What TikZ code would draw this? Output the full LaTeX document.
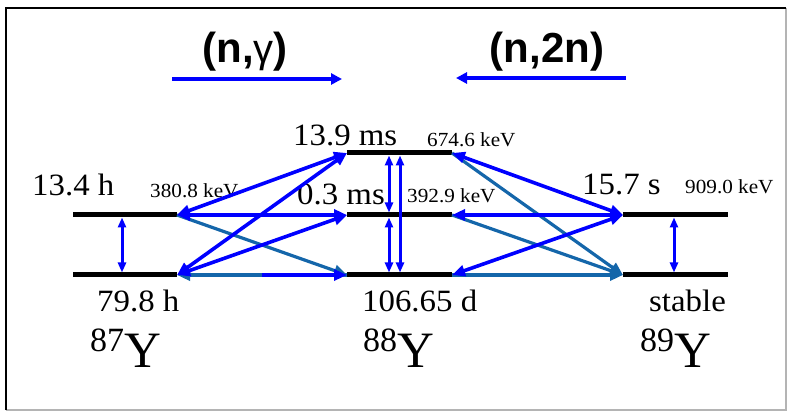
\documentclass[tikz,border=0pt]{standalone}
\usepackage{fontspec}
\setmainfont{Liberation Serif}
\newfontfamily\lblfont{Liberation Serif}[FakeStretch=1.06]
\newfontfamily\sansfont{Liberation Sans}
\usetikzlibrary{arrows.meta}
\definecolor{myblue}{RGB}{0,0,255}
\definecolor{myteal}{RGB}{20,102,170}
\definecolor{framegray}{RGB}{180,180,180}
\tikzset{
  levelbar/.style={line width=5pt, black},
  tipA/.tip={Triangle[length=13pt,width=11pt]},
  tipB/.tip={Triangle[length=10pt,width=8pt]},
  bothblue/.style={myblue, line width=3.6pt, tipA-tipA},
  oneblue/.style={myblue, line width=3.6pt, -tipA},
  tealarrow/.style={myteal, line width=3.2pt, -tipA},
  vertarrow/.style={myblue, line width=3pt, tipB-tipB},
  reaction/.style={myblue, line width=3.8pt, -{Triangle[length=11pt,width=11pt]}},
  bigbold/.style={inner sep=0pt, anchor=base, font=\sansfont\bfseries\fontsize{42}{42}\selectfont},
  life/.style={inner sep=0pt, anchor=base west, font=\lblfont\fontsize{31}{31}\selectfont},
  energy/.style={inner sep=0pt, anchor=base west, font=\lblfont\fontsize{20}{20}\selectfont},
  isotope/.style={inner sep=0pt, anchor=base west, font=\fontsize{51}{51}\selectfont}
}
\newcommand{\isot}[1]{\raisebox{15pt}{\fontsize{34}{34}\selectfont #1}Y}
\begin{document}
\begin{tikzpicture}[x=1pt,y=-1pt]
\useasboundingbox (0,0) rectangle (787,411);
\fill[white] (0,0) rectangle (787,411);
% frame
\draw[framegray, line width=1.5pt] (786,8) -- (786,410) -- (6,410);
\draw[black, line width=2.2pt] (6,410) -- (6,8) -- (786,8);

% titles
\node[bigbold] (ng) at (245,63) {(n,{\mdseries\fontsize{40}{40}\selectfont γ})};
\node[bigbold] (n2n) at (547,63) {(n,2n)};
\coordinate (ngS) at (172,79);
\coordinate (ngE) at (342,79);
\coordinate (n2S) at (626,78);
\coordinate (n2E) at (456,78);
\draw[reaction] (ngS) -- (ngE);
\draw[reaction] (n2S) -- (n2E);

% level end points
\coordinate (a1L) at (73,215);  \coordinate (a1R) at (177,215);
\coordinate (a0L) at (73,275);  \coordinate (a0R) at (177,275);
\coordinate (b2L) at (347,153); \coordinate (b2R) at (452,153);
\coordinate (b1L) at (347,215); \coordinate (b1R) at (452,215);
\coordinate (b0L) at (347,275); \coordinate (b0R) at (452,275);
\coordinate (c1L) at (623,215); \coordinate (c1R) at (728,215);
\coordinate (c0L) at (623,275); \coordinate (c0R) at (728,275);
\coordinate (abMid) at (262,275);

% labels
\node[life] (t134) at (32,196) {13.4 h};
\node[energy] (e380) at (150,198) {380.8 keV};
\node[life] (t139) at (293,146) {13.9 ms};
\node[energy] (e674) at (427,147) {674.6 keV};
\node[life] (t03) at (297,205) {0.3 ms};
\node[energy] (e392) at (407,203) {392.9 keV};
\node[life] (t157) at (582,195) {15.7 s};
\node[energy] (e909) at (685,194) {909.0 keV};
\node[life] (t798) at (97,312) {79.8 h};
\node[life] (t106) at (362,312) {106.65 d};
\node[life] (tst) at (649,312) {stable};
\node[isotope] (y87) at (90,367) {\isot{87}};
\node[isotope] (y88) at (363,367) {\isot{88}};
\node[isotope] (y89) at (640,367) {\isot{89}};

% level bars
\draw[levelbar] (a1L) -- (a1R);
\draw[levelbar] (a0L) -- (a0R);
\draw[levelbar] (b2L) -- (b2R);
\draw[levelbar] (b1L) -- (b1R);
\draw[levelbar] (b0L) -- (b0R);
\draw[levelbar] (c1L) -- (c1R);
\draw[levelbar] (c0L) -- (c0R);

% teal arrows (beneath)
\draw[tealarrow] (b0L) -- (a0R);
\draw[tealarrow] (a1R) -- (b0L);
\draw[tealarrow] (b2R) -- (c0L);
\draw[tealarrow] (b1R) -- (c0L);
\draw[tealarrow] (b0R) -- (c0L);

% blue arrows left
\draw[oneblue] (abMid) -- (b0L);
\draw[bothblue] (a1R) -- (b2L);
\draw[bothblue] (a0R) -- (b2L);
\draw[bothblue] (a1R) -- (b1L);
\draw[bothblue] (a0R) -- (b1L);
% blue arrows right
\draw[bothblue] (b2R) -- (c1L);
\draw[bothblue] (b1R) -- (c1L);
\draw[bothblue] (b0R) -- (c1L);

% vertical transitions
\coordinate (v87t) at (122,217.5); \coordinate (v87b) at (122,272.5);
\coordinate (v88at) at (389,155.5); \coordinate (v88am) at (389,212.5);
\coordinate (v88bm) at (389,217.5); \coordinate (v88bb) at (389,272.5);
\coordinate (v88ct) at (400,155.5); \coordinate (v88cb) at (400,272.5);
\coordinate (v89t) at (674,217.5); \coordinate (v89b) at (674,272.5);
\draw[vertarrow] (v87t) -- (v87b);
\draw[vertarrow] (v88at) -- (v88am);
\draw[vertarrow] (v88bm) -- (v88bb);
\draw[vertarrow] (v88ct) -- (v88cb);
\draw[vertarrow] (v89t) -- (v89b);
\end{tikzpicture}
\end{document}
